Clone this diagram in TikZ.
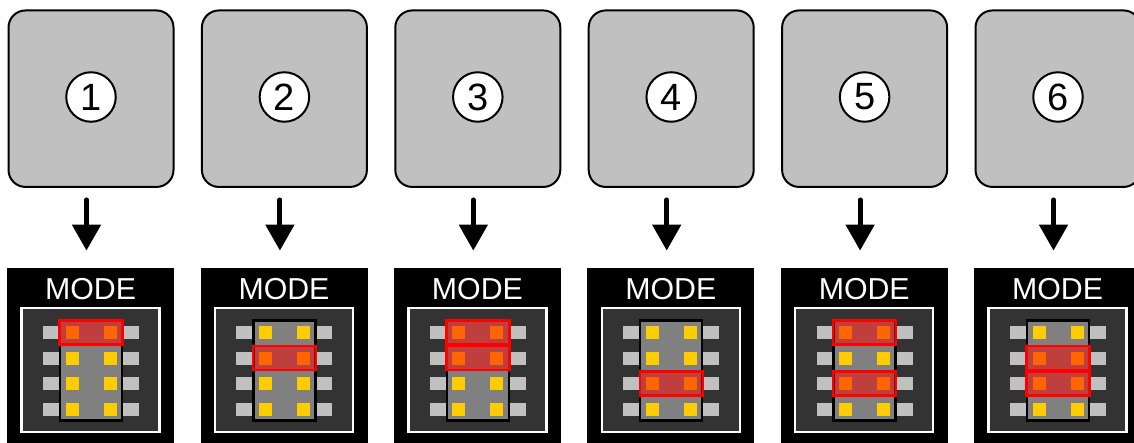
\documentclass[tikz,border=0pt]{standalone}
\usepackage{fontspec}
\setmainfont{Liberation Sans}
\usetikzlibrary{arrows.meta,calc}
\tikzset{
  x=1pt,y=-1pt,
  keycard/.style={draw=black,line width=2pt,fill=keygray,rounded corners=17pt,minimum width=165pt,minimum height=176.5pt,inner sep=0pt},
  numdisc/.style={circle,draw=black,line width=2pt,fill=white,minimum size=49.5pt,inner sep=0pt,font=\fontsize{38}{38}\selectfont},
  flow/.style={line width=5pt,line cap=round,-{Triangle[width=28pt,length=26pt]}},
  modepanel/.style={fill=black,minimum width=167pt,minimum height=190pt,inner sep=0pt},
  modetext/.style={text=white,inner sep=0pt,font=\fontsize{30.3}{30}\selectfont},
  innerpanel/.style={draw=white,line width=2.4pt,fill=darkpanel,minimum width=138pt,minimum height=124pt,inner sep=0pt},
  chip/.style={draw=black,line width=2.4pt,fill=chipgray,minimum width=62pt,minimum height=100pt,inner sep=0pt},
  pin/.style={fill=keygray,minimum width=16pt,minimum height=13pt,inner sep=0pt},
  pad/.style={fill=padyellow,minimum width=13pt,minimum height=13pt,inner sep=0pt},
  sel/.style={draw=red,line width=2.4pt,fill=red,fill opacity=.5,draw opacity=1,minimum width=63pt,minimum height=24pt,inner sep=0pt},
}
\definecolor{keygray}{HTML}{C0C0C0}
\definecolor{darkpanel}{HTML}{333333}
\definecolor{chipgray}{HTML}{808080}
\definecolor{padyellow}{HTML}{FFCC00}
\begin{document}
\begin{tikzpicture}
\useasboundingbox (0,0) rectangle (1134,443);
\clip (0,0) rectangle (1134,443);
\foreach \n/\rows in {1/{1},2/{2},3/{1,2},4/{3},5/{1,3},6/{2,3}}{
  \pgfmathsetmacro{\cx}{91+193.4*(\n-1)}
  \pgfmathsetmacro{\px}{\cx-0.4}
  \node[keycard] (card\n) at (\cx,98.7) {};
  \node[numdisc] (num\n) at (\cx,97) {\n};
  \node[modepanel] (panel\n) at (\px,363) {};
  \node[modetext] (mode\n) at (\px,289.5) {MODE};
  \node[innerpanel] (inner\n) at (\px,370) {};
  \foreach \r in {1,2,3,4}{
    \pgfmathsetmacro{\ry}{332.5+25.5*(\r-1)}
    \node[pin] (pinl\n\r) at (\cx-40,\ry) {};
    \node[pin] (pinr\n\r) at (\cx+40,\ry) {};
  }
  \node[chip] (chip\n) at (\cx,370.5) {};
  \foreach \r in {1,2,3,4}{
    \pgfmathsetmacro{\ry}{332.5+25.5*(\r-1)}
    \node[pad] (padl\n\r) at (\cx-19,\ry) {};
    \node[pad] (padr\n\r) at (\cx+19,\ry) {};
  }
  \foreach \r in \rows{
    \pgfmathsetmacro{\ry}{332.5+25.5*(\r-1)}
    \node[sel] (sel\n\r) at (\cx,\ry) {};
  }
  \coordinate (from\n) at ($(card\n.south)+(-4.5pt,-12pt)$);
  \coordinate (to\n) at ($(card\n.south |- panel\n.north)+(-4.5pt,17.2pt)$);
  \draw[flow] (from\n) -- (to\n);
}
\end{tikzpicture}
\end{document}
